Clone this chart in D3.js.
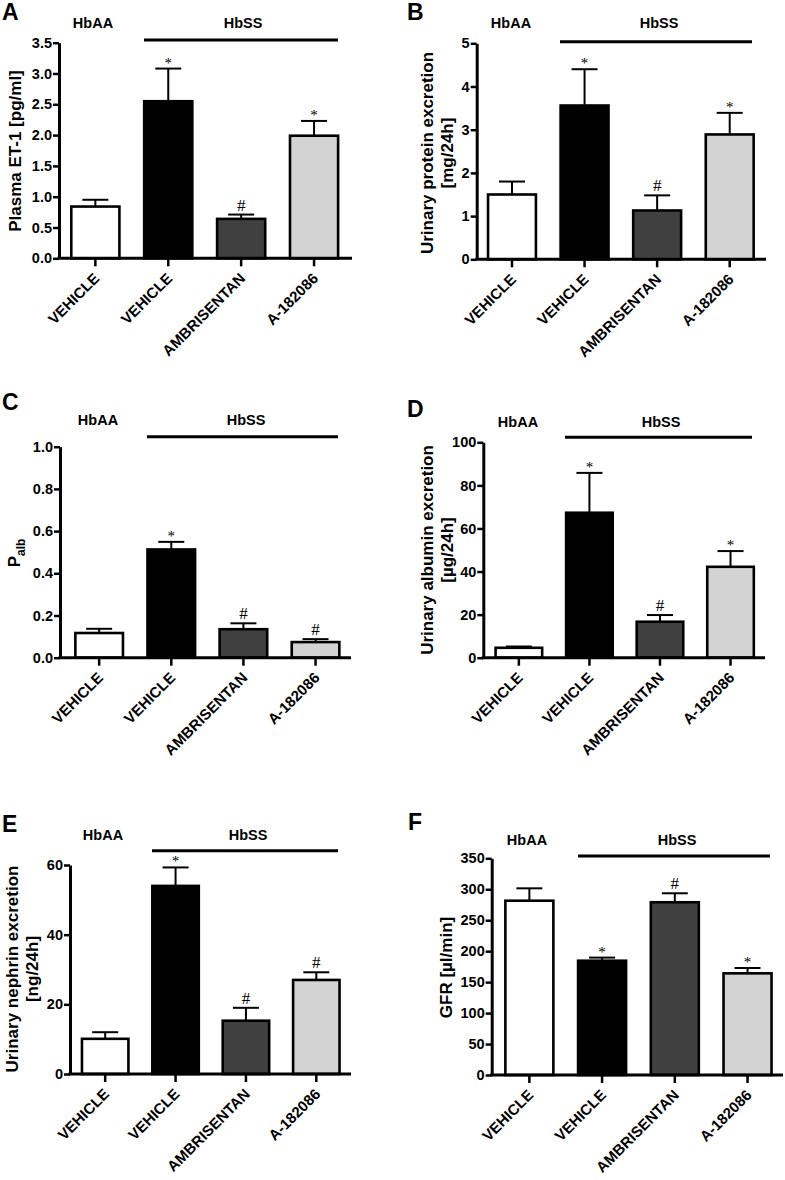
<!DOCTYPE html>
<html><head><meta charset="utf-8">
<script src="https://cdn.jsdelivr.net/npm/d3@7"></script>
<style>
html,body{margin:0;padding:0;background:#fff;}
svg{display:block;font-family:"Liberation Sans",Arial,Helvetica,sans-serif;}
</style></head>
<body>
<svg id="chart" width="785" height="1180"></svg>
<script>
// ---------- data ----------
const categories = ["VEHICLE", "VEHICLE", "AMBRISENTAN", "A-182086"];
const groupLabels = ["HbAA", "HbSS"];
const barFills = ["#ffffff", "#000000", "#404040", "#d3d3d3"];

const et1Mean = [0.84, 2.55, 0.64, 1.99];
const et1Sem  = [0.11, 0.53, 0.07, 0.24];
const et1Sig  = ["", "*", "#", "*"];
const et1Ticks = [0, 0.5, 1.0, 1.5, 2.0, 2.5, 3.0, 3.5];

const protMean = [1.50, 3.56, 1.13, 2.89];
const protSem  = [0.30, 0.84, 0.35, 0.50];
const protSig  = ["", "*", "#", "*"];
const protTicks = [0, 1, 2, 3, 4, 5];

const palbMean = [0.117, 0.513, 0.135, 0.074];
const palbSem  = [0.020, 0.036, 0.028, 0.014];
const palbSig  = ["", "*", "#", "#"];
const palbTicks = [0, 0.2, 0.4, 0.6, 0.8, 1.0];

const albMean = [4.6, 67.3, 16.7, 42.2];
const albSem  = [0.6, 18.5, 3.1, 7.3];
const albSig  = ["", "*", "#", "*"];
const albTicks = [0, 20, 40, 60, 80, 100];

const nephMean = [10.1, 54.0, 15.3, 27.0];
const nephSem  = [1.9, 5.3, 3.7, 2.2];
const nephSig  = ["", "*", "#", "#"];
const nephTicks = [0, 20, 40, 60];

const gfrMean = [281.5, 184.6, 279.0, 164.2];
const gfrSem  = [20.0, 5.0, 14.5, 8.6];
const gfrSig  = ["", "*", "#", "*"];
const gfrTicks = [0, 50, 100, 150, 200, 250, 300, 350];

// ---------- layout ----------
const panels = [
  {letter:"A", lx:2, ly:20, mean:et1Mean, sem:et1Sem, sig:et1Sig, ticks:et1Ticks, fmt:".1f",
   ax:59, x1:352, band:[58.9,350.5], y0:258.3, y1:42.7,
   ylab:["Plasma ET-1 [pg/ml]"], ylx:[21], yly:151,
   grpY:28, grpX:[93,243], lineY:40, lineX:[144,338]},
  {letter:"B", lx:407, ly:20, mean:protMean, sem:protSem, sig:protSig, ticks:protTicks, fmt:"d",
   ax:476.7, x1:766, band:[475.7,766], y0:259.3, y1:43.3,
   ylab:["Urinary protein excretion","[mg/24h]"], ylx:[433,453], yly:153,
   grpY:28, grpX:[511,659], lineY:41.7, lineX:[560,752]},
  {letter:"C", lx:2, ly:410, mean:palbMean, sem:palbSem, sig:palbSig, ticks:palbTicks, fmt:".1f",
   ax:60, x1:351, band:[63.1,351.6], y0:657.7, y1:446.7,
   ylab:null, ylx:[20], yly:553,
   grpY:425, grpX:[98,246], lineY:436.7, lineX:[147,338]},
  {letter:"D", lx:407, ly:417, mean:albMean, sem:albSem, sig:albSig, ticks:albTicks, fmt:"d",
   ax:483.3, x1:765, band:[483.6,765.8], y0:657.7, y1:442.3,
   ylab:["Urinary albumin excretion","[\u00b5g/24h]"], ylx:[433,453], yly:550,
   grpY:426.7, grpX:[518,661], lineY:437.3, lineX:[565,752]},
  {letter:"E", lx:2, ly:832, mean:nephMean, sem:nephSem, sig:nephSig, ticks:nephTicks, fmt:"d",
   ax:70, x1:351, band:[70,351.5], y0:1074, y1:865,
   ylab:["Urinary nephrin excretion","[ng/24h]"], ylx:[17.7,38], yly:969,
   grpY:840, grpX:[103,248], lineY:850.7, lineX:[152,338]},
  {letter:"F", lx:408, ly:830, mean:gfrMean, sem:gfrSem, sig:gfrSig, ticks:gfrTicks, fmt:"d",
   ax:491.7, x1:783, band:[493,783.9], y0:1075, y1:858.3,
   ylab:["GFR [\u00b5l/min]"], ylx:[451.7], yly:967.5,
   grpY:845, grpX:[527,677], lineY:856, lineX:[578,770]}
];

const svg = d3.select("#chart");
svg.append("rect").attr("width",785).attr("height",1180).attr("fill","#fff");

panels.forEach(p => {
  const g = svg.append("g");
  const x = d3.scaleBand().domain(d3.range(categories.length)).range(p.band)
      .paddingInner(0.34).paddingOuter(0.17);
  const ymax = p.ticks[p.ticks.length-1];
  const y = d3.scaleLinear().domain([0, ymax]).range([p.y0, p.y1]);

  // panel letter
  g.append("text").attr("x", p.lx).attr("y", p.ly).text(p.letter)
    .attr("font-size", 23).attr("font-weight", "bold").attr("fill","#000");

  // group labels
  groupLabels.forEach((t,i) => {
    g.append("text").attr("x", p.grpX[i]).attr("y", p.grpY).text(t)
      .attr("text-anchor","middle").attr("font-size",14.5).attr("font-weight","bold").attr("fill","#000");
  });
  g.append("line").attr("x1", p.lineX[0]).attr("x2", p.lineX[1])
    .attr("y1", p.lineY).attr("y2", p.lineY).attr("stroke","#000").attr("stroke-width",3);

  // bars
  const idx = d3.range(categories.length);
  g.selectAll("rect.bar").data(idx).join("rect").attr("class","bar")
    .attr("x", i => x(i)).attr("width", x.bandwidth())
    .attr("y", i => y(p.mean[i])).attr("height", i => y(0) - y(p.mean[i]))
    .attr("fill", i => barFills[i]).attr("stroke","#000").attr("stroke-width",2.6);

  // error bars
  const cap = 13;
  idx.forEach(i => {
    const cx = x(i) + x.bandwidth()/2;
    const top = y(p.mean[i] + p.sem[i]);
    g.append("line").attr("x1",cx).attr("x2",cx).attr("y1",y(p.mean[i])).attr("y2",top)
      .attr("stroke","#000").attr("stroke-width",2);
    g.append("line").attr("x1",cx-cap).attr("x2",cx+cap).attr("y1",top).attr("y2",top)
      .attr("stroke","#000").attr("stroke-width",2);
    const s = p.sig[i];
    if (s) {
      g.append("text").attr("x",cx).attr("y", s === "*" ? top - 1 : top - 4)
        .attr("text-anchor","middle").attr("font-family","'Liberation Serif','Times New Roman',serif")
        .attr("fill","#000")
        .attr("font-size", s === "*" ? 15 : 17).text(s);
    }
  });

  // y axis
  const yAxis = d3.axisLeft(y).tickValues(p.ticks).tickSize(6).tickSizeOuter(0).tickPadding(1)
    .tickFormat(d3.format(p.fmt));
  const ya = g.append("g").attr("transform", `translate(${p.ax},0)`).call(yAxis);
  ya.select(".domain").attr("stroke-width",3);
  ya.selectAll(".tick line").attr("stroke-width",2.5);
  ya.selectAll(".tick text").attr("font-size",14.5).attr("font-weight","bold")
    .attr("font-family","'Liberation Sans',Arial,sans-serif").attr("fill","#000");

  // x axis
  const xAxis = d3.axisBottom(x).tickSize(8).tickSizeOuter(0).tickFormat("");
  const xa = g.append("g").attr("transform", `translate(0,${p.y0})`).call(xAxis);
  xa.select(".domain").remove();
  xa.selectAll(".tick line").attr("stroke-width",2.5);
  g.append("line").attr("x1", p.ax - 1.5).attr("x2", p.x1).attr("y1", p.y0).attr("y2", p.y0)
    .attr("stroke","#000").attr("stroke-width",3);

  // x labels
  idx.forEach(i => {
    const cx = x(i) + x.bandwidth()/2;
    g.append("text").attr("transform", `translate(${cx+5},${p.y0+21}) rotate(-45)`)
      .attr("text-anchor","end").attr("font-size",15).attr("font-weight","bold")
      .attr("fill","#000").text(categories[i]);
  });

  // y label
  if (p.ylab) {
    p.ylab.forEach((t,k) => {
      g.append("text").attr("transform", `translate(${p.ylx[k]},${p.yly}) rotate(-90)`)
        .attr("text-anchor","middle").attr("font-size",17).attr("font-weight","bold")
        .attr("fill","#000").text(t);
    });
  } else {
    const t = g.append("text").attr("transform", `translate(${p.ylx[0]},${p.yly}) rotate(-90)`)
      .attr("text-anchor","middle").attr("font-size",17).attr("font-weight","bold").attr("fill","#000");
    t.append("tspan").text("P");
    t.append("tspan").attr("dy",5).attr("font-size",12).text("alb");
  }
});
</script>
</body></html>
